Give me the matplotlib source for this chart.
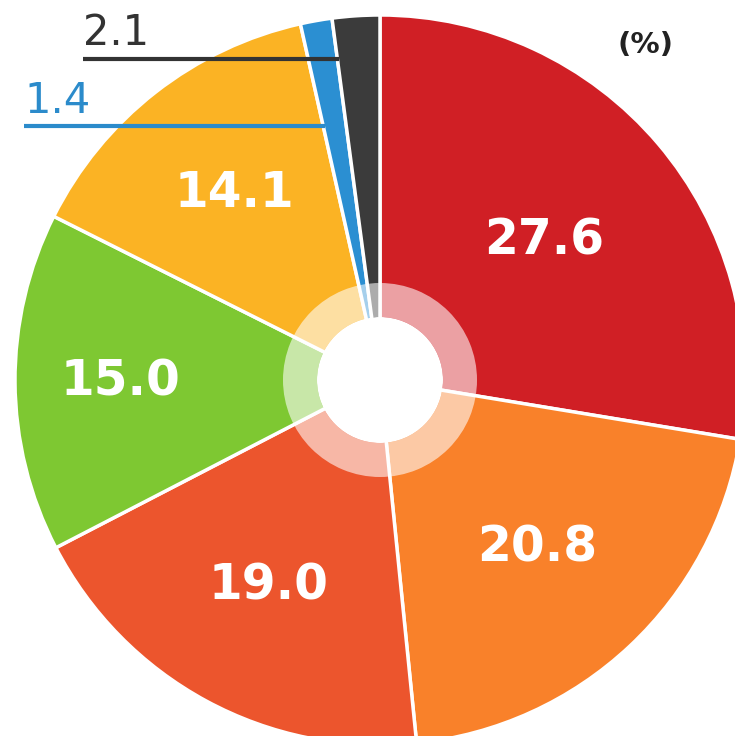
import matplotlib
matplotlib.use("Agg")
import matplotlib.pyplot as plt
from matplotlib.patches import Wedge, Circle
import numpy as np

labels = ["27.6", "20.8", "19.0", "15.0", "14.1", "1.4", "2.1"]
values = [27.6, 20.8, 19.0, 15.0, 14.1, 1.4, 2.1]
colors = ["#D01F25", "#F9812A", "#EC552D", "#7EC832", "#FBB324", "#2B8FD2", "#3B3B3B"]
unit_label = "(%)"

W, H = 735, 736
cx, cy, R = 380, 380, 365  # pixels

fig = plt.figure(figsize=(W / 100, H / 100), dpi=100)
ax = fig.add_axes([0, 0, 1, 1])

wedges, _ = ax.pie(values, startangle=90, counterclock=False, colors=colors, radius=1,
                   wedgeprops=dict(edgecolor="white", linewidth=2.5))

ax.set_xlim(-cx / R, (W - cx) / R)
ax.set_ylim(-(H - cy) / R, cy / R)
ax.set_aspect("equal")
ax.axis("off")

# inner translucent ring and white hole
ax.add_patch(Wedge((0, 0), 97 / R, 0, 360, width=(97 - 63) / R, facecolor="white",
                   alpha=0.58, linewidth=0, zorder=5))
ax.add_patch(Circle((0, 0), 63 / R, facecolor="white", linewidth=0, zorder=6))

# big labels inside slices
label_r = [0.59, 0.63, 0.64, 0.71, 0.65]
for w, lab, r in zip(wedges[:5], labels[:5], label_r):
    ang = np.deg2rad((w.theta1 + w.theta2) / 2)
    ax.text(r * np.cos(ang), r * np.sin(ang), lab, color="white", fontsize=35,
            ha="center", va="center", family="DejaVu Sans", fontweight="bold", zorder=7)

# small slices: leader lines + labels
def px(x, y):
    return (x - cx) / R, (cy - y) / R

small = [(wedges[6], labels[6], "#333333", 59, 83, 45),
         (wedges[5], labels[5], "#2B8BCB", 126, 24, 113)]
for w, lab, col, ly, lx, ty in small:
    y_d = (cy - ly) / R
    th = np.deg2rad(max(w.theta1, w.theta2))
    end_x = y_d / np.tan(th) + 0.004
    x0, _ = px(lx, ly)
    ax.plot([x0, end_x], [y_d, y_d], color=col, linewidth=3, solid_capstyle="butt", zorder=8)
    tx, tyd = px(lx, ty)
    ax.text(tx, tyd, lab, color=col, fontsize=30, ha="left", va="baseline",
            family="DejaVu Sans", zorder=8)

ux, uy = px(645, 45)
ax.text(ux, uy, unit_label, color="#222222", fontsize=21, fontweight="bold",
        ha="center", va="center", family="DejaVu Sans")

fig.savefig("out.png", dpi=100)
